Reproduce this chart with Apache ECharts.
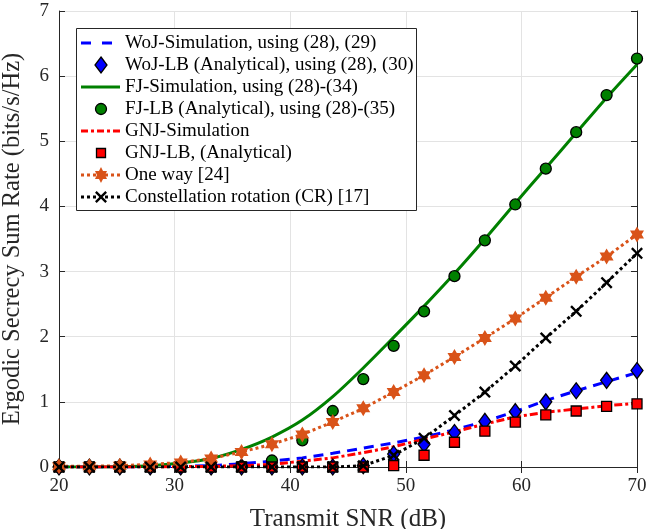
<!DOCTYPE html>
<html>
<head>
<meta charset="utf-8">
<script src="https://cdn.jsdelivr.net/npm/echarts@6/dist/echarts.min.js"></script>
<style>html,body{margin:0;padding:0;background:#fff;}#c{width:649px;height:529px;}</style>
</head>
<body>
<div id="c"></div>
<script>
const snr = [20, 22.63, 25.26, 27.89, 30.53, 33.16, 35.79, 38.42, 41.05, 43.68, 46.32, 48.95, 51.58, 54.21, 56.84, 59.47, 62.11, 64.74, 67.37, 70];
const wojSim = [0, 0, 0, 0.005, 0.01, 0.02, 0.05, 0.09, 0.14, 0.21, 0.29, 0.37, 0.46, 0.57, 0.70, 0.85, 1.02, 1.17, 1.31, 1.45];
const wojLB  = [0, 0, 0, 0, 0, 0, 0, 0, 0, 0, 0.02, 0.20, 0.35, 0.53, 0.70, 0.85, 1.00, 1.17, 1.33, 1.48];
const fjSim  = [0, 0, 0.005, 0.02, 0.06, 0.13, 0.27, 0.46, 0.72, 1.08, 1.52, 1.99, 2.47, 2.97, 3.50, 4.05, 4.59, 5.13, 5.67, 6.18];
const fjLB   = [0, 0, 0, 0, 0, 0, 0.01, 0.10, 0.41, 0.86, 1.35, 1.86, 2.39, 2.93, 3.48, 4.03, 4.58, 5.14, 5.71, 6.27];
const gnjSim = [0, 0, 0, 0, 0.005, 0.01, 0.02, 0.04, 0.09, 0.14, 0.22, 0.31, 0.43, 0.54, 0.66, 0.77, 0.84, 0.89, 0.94, 0.98];
const gnjLB  = [0, 0, 0, 0, 0, 0, 0, 0, 0, 0, 0, 0.02, 0.18, 0.38, 0.55, 0.69, 0.80, 0.86, 0.93, 0.97];
const oneWay = [0.01, 0.01, 0.02, 0.04, 0.07, 0.13, 0.23, 0.35, 0.50, 0.69, 0.90, 1.15, 1.41, 1.69, 1.98, 2.28, 2.60, 2.92, 3.23, 3.57];
const cr     = [0, 0, 0, 0, 0, 0, 0, 0, 0, 0, 0.02, 0.18, 0.44, 0.79, 1.15, 1.55, 1.98, 2.39, 2.83, 3.28];
const names = ['WoJ-Simulation, using (28), (29)', 'WoJ-LB (Analytical), using (28), (30)', 'FJ-Simulation, using (28)-(34)', 'FJ-LB (Analytical), using (28)-(35)', 'GNJ-Simulation', 'GNJ-LB, (Analytical)', 'One way [24]', 'Constellation rotation (CR) [17]'];
const xTicks = [20, 30, 40, 50, 60, 70];
const yTicks = [0, 1, 2, 3, 4, 5, 6, 7];

const pairs = arr => snr.map((x, i) => [x, arr[i]]);
const hexagram = 'path://M10,0 L12.89,5 L18.66,5 L15.77,10 L18.66,15 L12.89,15 L10,20 L7.11,15 L1.34,15 L4.23,10 L1.34,5 L7.11,5 Z';
const xMark = 'path://M0,1.4 L1.4,0 L5,3.6 L8.6,0 L10,1.4 L6.4,5 L10,8.6 L8.6,10 L5,6.4 L1.4,10 L0,8.6 L3.6,5 Z';
const serif = 'Liberation Serif';
const txt = '#262626';
const C = {blue: '#0000ff', green: '#008000', red: '#ff0000', orange: '#D95319', black: '#000000'};

// ---- legend drawn as graphics ----
function starPts(cx, cy, R) {
  const r = R / Math.sqrt(3), pts = [];
  for (let k = 0; k < 12; k++) {
    const a = (-90 + k * 30) * Math.PI / 180, rr = k % 2 === 0 ? R : r;
    pts.push([cx + rr * Math.cos(a) * 0.87, cy + rr * Math.sin(a)]);
  }
  return pts;
}
function xPts(cx, cy, s) {
  const raw = [[0,1.4],[1.4,0],[5,3.6],[8.6,0],[10,1.4],[6.4,5],[10,8.6],[8.6,10],[5,6.4],[1.4,10],[0,8.6],[3.6,5]];
  return raw.map(p => [cx + (p[0] - 5) * s / 10, cy + (p[1] - 5) * s / 10]);
}
const LX = 76, LY = 28, LW = 340, LH = 182, row0 = 43, rowH = 22, sx0 = 81, sx1 = 120, sxm = 101, tx = 125;
const legendEls = [{type: 'rect', z: 100, shape: {x: LX + 0.5, y: LY + 0.5, width: LW, height: LH},
  style: {fill: '#fff', stroke: '#262626', lineWidth: 1}}];
const lineSample = (y, color, dash) => ({type: 'line', z: 101, shape: {x1: sx0, y1: y, x2: sx1, y2: y},
  style: {stroke: color, lineWidth: 3, lineDash: dash}});
names.forEach((n, i) => {
  const y = row0 + i * rowH;
  legendEls.push({type: 'text', z: 101, x: tx, y: y, style: {text: n, fontFamily: serif, fontSize: 19, fill: '#000', textVerticalAlign: 'middle'}});
  if (i === 0) legendEls.push(lineSample(y, C.blue, [10, 11]));
  if (i === 1) legendEls.push({type: 'polygon', z: 102, shape: {points: [[sxm, y - 8], [sxm + 6, y], [sxm, y + 8], [sxm - 6, y]]}, style: {fill: C.blue, stroke: '#000', lineWidth: 1.3}});
  if (i === 2) legendEls.push(lineSample(y, C.green, null));
  if (i === 3) legendEls.push({type: 'circle', z: 102, shape: {cx: sxm, cy: y, r: 5.5}, style: {fill: C.green, stroke: '#000', lineWidth: 1.3}});
  if (i === 4) legendEls.push(lineSample(y, C.red, [7, 3, 3, 3]));
  if (i === 5) legendEls.push({type: 'rect', z: 102, shape: {x: sxm - 4.5, y: y - 4.5, width: 9, height: 9}, style: {fill: C.red, stroke: '#000', lineWidth: 1.3}});
  if (i === 6) {
    legendEls.push(lineSample(y, C.orange, [3, 3]));
    legendEls.push({type: 'polygon', z: 102, shape: {points: starPts(sxm, y, 8)}, style: {fill: C.orange}});
  }
  if (i === 7) {
    legendEls.push(lineSample(y, C.black, [3, 3]));
    legendEls.push({type: 'polygon', z: 102, shape: {points: xPts(sxm, y, 12)}, style: {fill: C.black}});
  }
});

const chart = echarts.init(document.getElementById('c'), null, {renderer: 'canvas'});
const axisCommon = {
  type: 'value',
  axisLine: {show: true, lineStyle: {color: txt, width: 1}},
  axisTick: {show: true, inside: true, length: 6, lineStyle: {color: txt}},
};
chart.setOption({
  animation: false,
  backgroundColor: '#fff',
  grid: {left: 59, right: 12, top: 11, bottom: 62, containLabel: false, outerBoundsMode: 'none'},
  xAxis: [
    Object.assign({}, axisCommon, {
      min: xTicks[0], max: xTicks[xTicks.length - 1], interval: 10,
      name: 'Transmit SNR (dB)', nameLocation: 'middle', nameGap: 40,
      nameTextStyle: {fontFamily: serif, fontSize: 25, color: txt},
      axisLabel: {fontFamily: serif, fontSize: 19, color: txt, margin: 10},
      splitLine: {show: true, lineStyle: {color: '#e3e3e3', width: 1}}
    }),
    Object.assign({}, axisCommon, {
      position: 'top', min: 20, max: 70, interval: 10,
      axisLabel: {show: false}, splitLine: {show: false}
    })
  ],
  yAxis: [
    Object.assign({}, axisCommon, {
      min: yTicks[0], max: yTicks[yTicks.length - 1], interval: 1,
      name: 'Ergodic Secrecy Sum Rate (bits/s/Hz)', nameLocation: 'middle', nameGap: 34,
      nameTextStyle: {fontFamily: serif, fontSize: 24.5, color: txt},
      axisLabel: {fontFamily: serif, fontSize: 19, color: txt, margin: 10},
      splitLine: {show: true, lineStyle: {color: '#e3e3e3', width: 1}}
    }),
    Object.assign({}, axisCommon, {
      position: 'right', min: 0, max: 7, interval: 1,
      axisLabel: {show: false}, splitLine: {show: false}
    })
  ],
  graphic: legendEls,
  series: [
    {name: names[0], type: 'line', data: pairs(wojSim), showSymbol: false, symbol: 'none',
      lineStyle: {color: C.blue, width: 3, type: [10, 7]}, itemStyle: {color: C.blue}, z: 2},
    {name: names[1], type: 'scatter', data: pairs(wojLB), symbol: 'diamond', symbolSize: [12, 16],
      itemStyle: {color: C.blue, borderColor: '#000', borderWidth: 1.3, opacity: 1}, z: 3},
    {name: names[2], type: 'line', data: pairs(fjSim), showSymbol: false, symbol: 'none', smooth: 0.3,
      lineStyle: {color: C.green, width: 3}, itemStyle: {color: C.green}, z: 2},
    {name: names[3], type: 'scatter', data: pairs(fjLB), symbol: 'circle', symbolSize: 11,
      itemStyle: {color: C.green, borderColor: '#000', borderWidth: 1.3, opacity: 1}, z: 3},
    {name: names[4], type: 'line', data: pairs(gnjSim), showSymbol: false, symbol: 'none',
      lineStyle: {color: C.red, width: 3, type: [8, 3, 3, 3]}, itemStyle: {color: C.red}, z: 2},
    {name: names[5], type: 'scatter', data: pairs(gnjLB), symbol: 'rect', symbolSize: 10,
      itemStyle: {color: C.red, borderColor: '#000', borderWidth: 1.3, opacity: 1}, z: 3},
    {name: names[6], type: 'line', data: pairs(oneWay), symbol: hexagram, symbolSize: [14, 16], showSymbol: true,
      lineStyle: {color: C.orange, width: 3, type: [3, 3]}, itemStyle: {color: C.orange, borderWidth: 0}, z: 4},
    {name: names[7], type: 'line', data: pairs(cr), symbol: xMark, symbolSize: 12, showSymbol: true,
      lineStyle: {color: C.black, width: 3, type: [3, 3]}, itemStyle: {color: C.black, borderWidth: 0}, z: 5}
  ]
});
</script>
</body>
</html>
